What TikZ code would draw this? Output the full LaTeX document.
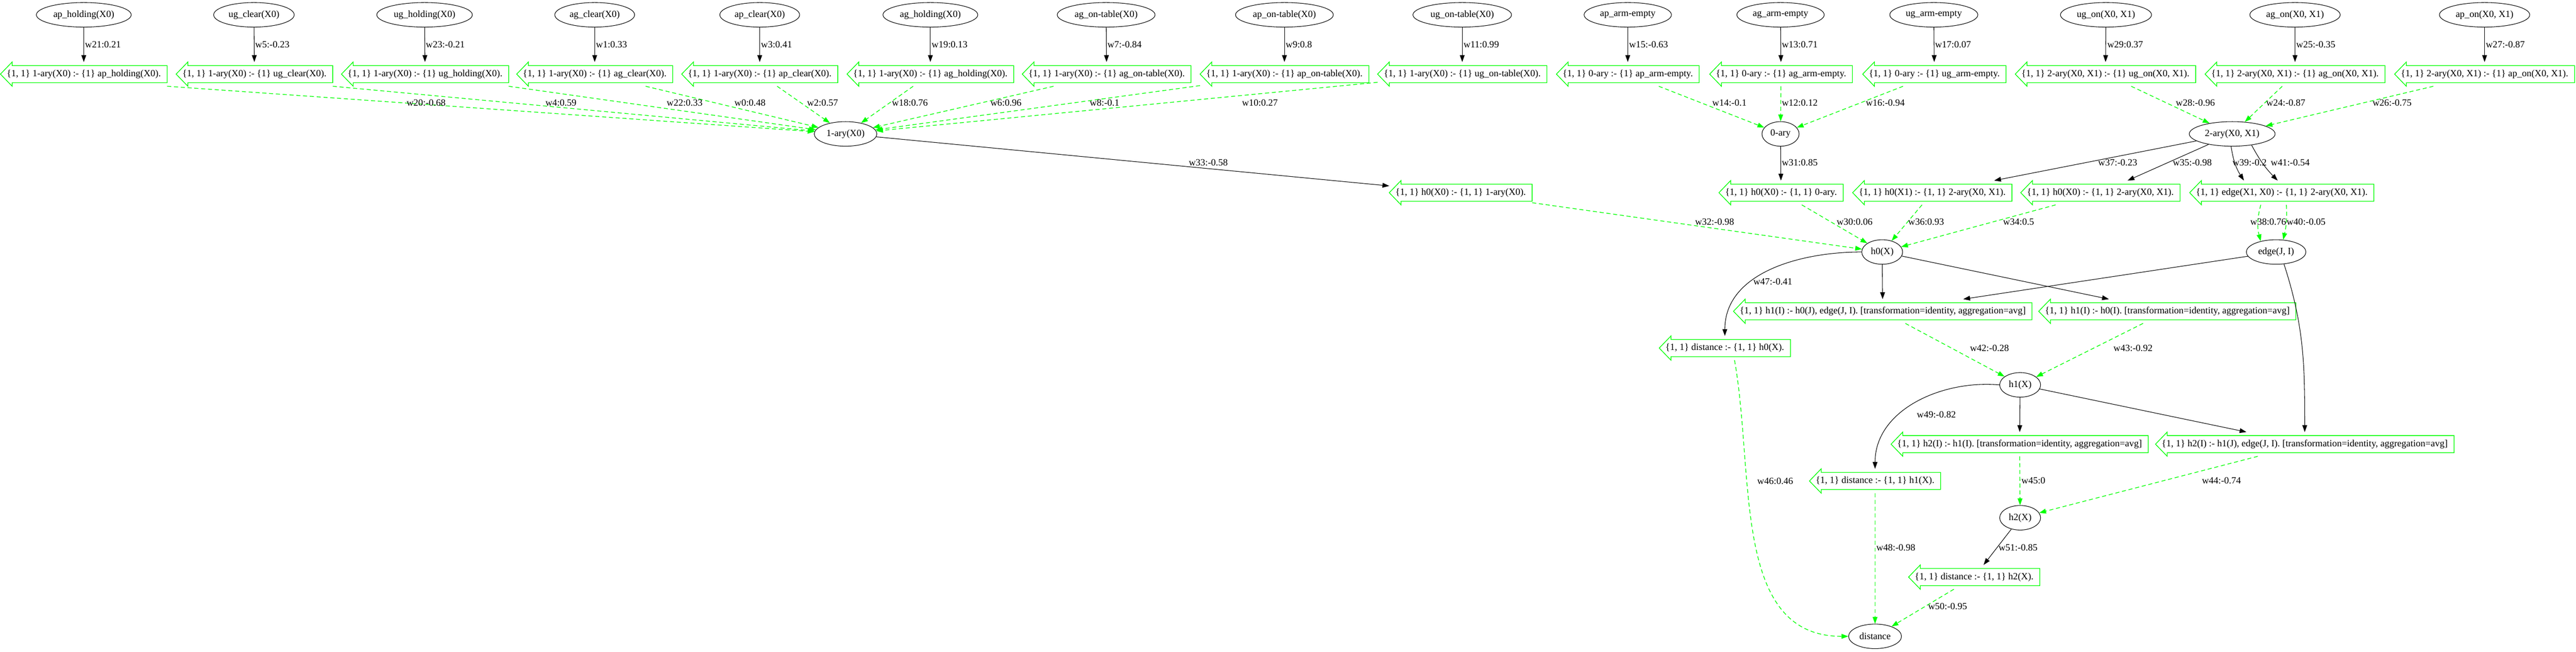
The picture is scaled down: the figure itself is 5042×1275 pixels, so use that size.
\documentclass[tikz,border=0pt]{standalone}
\usepackage{fontspec}
\setmainfont{Liberation Serif}
\usetikzlibrary{arrows.meta,shapes.geometric}
\definecolor{rulegreen}{RGB}{0,255,0}
\tikzset{
  atom/.style={draw, ellipse, line width=0.8pt, inner xsep=4.5pt, inner ysep=1pt, minimum height=36pt},
  rulebox/.style={inner xsep=9pt, inner ysep=0pt, minimum height=35.25pt},
  ruleline/.style={draw=rulegreen, line width=1pt},
  solidarr/.style={draw, line width=0.8pt, -{Triangle[length=10pt,width=7pt]}},
  dasharr/.style={draw=rulegreen, line width=1pt, dash pattern=on 6pt off 4pt, -{Triangle[length=10pt,width=7pt,fill=rulegreen]}},
  wlab/.style={inner sep=1pt}
}
\begin{document}
\begin{tikzpicture}[x=0.75pt, y=-0.75pt, every node/.style={font=\fontsize{14}{16}\selectfont}]
\useasboundingbox (0,0) rectangle (5042,1275);
% input atoms
\node[atom] (aph) at (164,29) {ap\_holding(X0)};
\node[atom] (ugc) at (497,29) {ug\_clear(X0)};
\node[atom] (ugh) at (831,29) {ug\_holding(X0)};
\node[atom] (agc) at (1164,29) {ag\_clear(X0)};
\node[atom] (apc) at (1487,29) {ap\_clear(X0)};
\node[atom] (agh) at (1821,29) {ag\_holding(X0)};
\node[atom] (agot) at (2165,29) {ag\_on-table(X0)};
\node[atom] (apot) at (2514,29) {ap\_on-table(X0)};
\node[atom] (ugot) at (2862,29) {ug\_on-table(X0)};
\node[atom] (apae) at (3186,29) {ap\_arm-empty};
\node[atom] (agae) at (3485,29) {ag\_arm-empty};
\node[atom] (ugae) at (3785,29) {ug\_arm-empty};
\node[atom] (ugon) at (4122,29) {ug\_on(X0, X1)};
\node[atom] (agon) at (4492,29) {ag\_on(X0, X1)};
\node[atom] (apon) at (4863,29) {ap\_on(X0, X1)};
% first rules
\node[rulebox] (raph) at (164,145) {\{1, 1\} 1-ary(X0) :- \{1\} ap\_holding(X0).};
\node[rulebox] (rugc) at (498,145) {\{1, 1\} 1-ary(X0) :- \{1\} ug\_clear(X0).};
\node[rulebox] (rugh) at (832,145) {\{1, 1\} 1-ary(X0) :- \{1\} ug\_holding(X0).};
\node[rulebox] (ragc) at (1164,145) {\{1, 1\} 1-ary(X0) :- \{1\} ag\_clear(X0).};
\node[rulebox] (rapc) at (1487,145) {\{1, 1\} 1-ary(X0) :- \{1\} ap\_clear(X0).};
\node[rulebox] (ragh) at (1821,145) {\{1, 1\} 1-ary(X0) :- \{1\} ag\_holding(X0).};
\node[rulebox] (ragot) at (2166,145) {\{1, 1\} 1-ary(X0) :- \{1\} ag\_on-table(X0).};
\node[rulebox] (rapot) at (2514,145) {\{1, 1\} 1-ary(X0) :- \{1\} ap\_on-table(X0).};
\node[rulebox] (rugot) at (2862,145) {\{1, 1\} 1-ary(X0) :- \{1\} ug\_on-table(X0).};
\node[rulebox] (rapae) at (3186,145) {\{1, 1\} 0-ary :- \{1\} ap\_arm-empty.};
\node[rulebox] (ragae) at (3486,145) {\{1, 1\} 0-ary :- \{1\} ag\_arm-empty.};
\node[rulebox] (rugae) at (3786,145) {\{1, 1\} 0-ary :- \{1\} ug\_arm-empty.};
\node[rulebox] (rugon) at (4121,145) {\{1, 1\} 2-ary(X0, X1) :- \{1\} ug\_on(X0, X1).};
\node[rulebox] (ragon) at (4492,145) {\{1, 1\} 2-ary(X0, X1) :- \{1\} ag\_on(X0, X1).};
\node[rulebox] (rapon) at (4863,145) {\{1, 1\} 2-ary(X0, X1) :- \{1\} ap\_on(X0, X1).};
% arity atoms
\node[atom] (ary1) at (1655,262) {1-ary(X0)};
\node[atom] (ary0) at (3485,262) {0-ary};
\node[atom] (ary2) at (4369,262) {2-ary(X0, X1)};
% h0 rules
\node[rulebox] (rh0a) at (2859,377) {\{1, 1\} h0(X0) :- \{1, 1\} 1-ary(X0).};
\node[rulebox] (rh0b) at (3486,377) {\{1, 1\} h0(X0) :- \{1, 1\} 0-ary.};
\node[rulebox] (rh0c) at (3782,377) {\{1, 1\} h0(X1) :- \{1, 1\} 2-ary(X0, X1).};
\node[rulebox] (rh0d) at (4111,377) {\{1, 1\} h0(X0) :- \{1, 1\} 2-ary(X0, X1).};
\node[rulebox] (redge) at (4466,377) {\{1, 1\} edge(X1, X0) :- \{1, 1\} 2-ary(X0, X1).};
\node[atom] (hzero) at (3684,493) {h0(X)};
\node[atom] (edgeji) at (4455,493) {edge(J, I)};
% message passing
\node[rulebox] (rh1a) at (3685,609) {\{1, 1\} h1(I) :- h0(J), edge(J, I). [transformation=identity, aggregation=avg]};
\node[rulebox] (rh1b) at (4242,609) {\{1, 1\} h1(I) :- h0(I). [transformation=identity, aggregation=avg]};
\node[rulebox] (rdist0) at (3376,681) {\{1, 1\} distance :- \{1, 1\} h0(X).};
\node[atom] (hone) at (3954,753) {h1(X)};
\node[rulebox] (rh2a) at (3953,869) {\{1, 1\} h2(I) :- h1(I). [transformation=identity, aggregation=avg]};
\node[rulebox] (rh2b) at (4511,869) {\{1, 1\} h2(I) :- h1(J), edge(J, I). [transformation=identity, aggregation=avg]};
\node[rulebox] (rdist1) at (3670,941) {\{1, 1\} distance :- \{1, 1\} h1(X).};
\node[atom] (htwo) at (3954,1013) {h2(X)};
\node[rulebox] (rdist2) at (3864,1129) {\{1, 1\} distance :- \{1, 1\} h2(X).};
\node[atom] (dist) at (3670,1245) {distance};
% rule outlines
\foreach \r in {raph,rugc,rugh,ragc,rapc,ragh,ragot,rapot,rugot,rapae,ragae,rugae,rugon,ragon,rapon,rh0a,rh0b,rh0c,rh0d,redge,rh1a,rh1b,rdist0,rh2a,rh2b,rdist1,rdist2}
  \draw[ruleline] ([xshift=17.25pt,yshift=-5.25pt]\r.north west) -- ([xshift=17.25pt]\r.north west) -- (\r.west) -- ([xshift=17.25pt]\r.south west) -- ([xshift=17.25pt,yshift=5.25pt]\r.south west) -- ([yshift=5.25pt]\r.south east) -- ([yshift=-5.25pt]\r.north east) -- cycle;
% atoms into rules
\draw[solidarr] (aph) -- (raph);
\draw[solidarr] (ugc) -- (rugc);
\draw[solidarr] (ugh) -- (rugh);
\draw[solidarr] (agc) -- (ragc);
\draw[solidarr] (apc) -- (rapc);
\draw[solidarr] (agh) -- (ragh);
\draw[solidarr] (agot) -- (ragot);
\draw[solidarr] (apot) -- (rapot);
\draw[solidarr] (ugot) -- (rugot);
\draw[solidarr] (apae) -- (rapae);
\draw[solidarr] (agae) -- (ragae);
\draw[solidarr] (ugae) -- (rugae);
\draw[solidarr] (ugon) -- (rugon);
\draw[solidarr] (agon) -- (ragon);
\draw[solidarr] (apon) -- (rapon);
\node[wlab, anchor=west] (l21) at (165,87) {w21:0.21};
\node[wlab, anchor=west] (l5) at (498,87) {w5:-0.23};
\node[wlab, anchor=west] (l23) at (832,87) {w23:-0.21};
\node[wlab, anchor=west] (l1) at (1165,87) {w1:0.33};
\node[wlab, anchor=west] (l3) at (1488,87) {w3:0.41};
\node[wlab, anchor=west] (l19) at (1822,87) {w19:0.13};
\node[wlab, anchor=west] (l7) at (2166,87) {w7:-0.84};
\node[wlab, anchor=west] (l9) at (2515,87) {w9:0.8};
\node[wlab, anchor=west] (l11) at (2863,87) {w11:0.99};
\node[wlab, anchor=west] (l15) at (3187,87) {w15:-0.63};
\node[wlab, anchor=west] (l13) at (3486,87) {w13:0.71};
\node[wlab, anchor=west] (l17) at (3786,87) {w17:0.07};
\node[wlab, anchor=west] (l29) at (4123,87) {w29:0.37};
\node[wlab, anchor=west] (l25) at (4493,87) {w25:-0.35};
\node[wlab, anchor=west] (l27) at (4864,87) {w27:-0.87};
% rules into arity atoms
\draw[dasharr] (raph.south east) -- (ary1);
\draw[dasharr] (rugc.south east) -- (ary1);
\draw[dasharr] (rugh.south east) -- (ary1);
\draw[dasharr] (ragc) -- (ary1);
\draw[dasharr] (rapc) -- (ary1);
\draw[dasharr] (ragh) -- (ary1);
\draw[dasharr] (ragot) -- (ary1);
\draw[dasharr] (rapot) -- (ary1);
\draw[dasharr] (rugot) -- (ary1);
\draw[dasharr] (rapae) -- (ary0);
\draw[dasharr] (ragae) -- (ary0);
\draw[dasharr] (rugae) -- (ary0);
\draw[dasharr] (rugon) -- (ary2);
\draw[dasharr] (ragon) -- (ary2);
\draw[dasharr] (rapon) -- (ary2);
\node[wlab] (l20) at (834,201) {w20:-0.68};
\node[wlab] (l4) at (1098,201) {w4:0.59};
\node[wlab] (l22) at (1340,201) {w22:0.33};
\node[wlab] (l0) at (1468,201) {w0:0.48};
\node[wlab] (l2) at (1610,201) {w2:0.57};
\node[wlab] (l18) at (1781,201) {w18:0.76};
\node[wlab] (l6) at (1969,201) {w6:0.96};
\node[wlab] (l8) at (2162,201) {w8:-0.1};
\node[wlab] (l10) at (2466,201) {w10:0.27};
\node[wlab] (l14) at (3385,201) {w14:-0.1};
\node[wlab, anchor=west] (l12) at (3486,201) {w12:0.12};
\node[wlab] (l16) at (3690,201) {w16:-0.94};
\node[wlab] (l28) at (4297,201) {w28:-0.96};
\node[wlab] (l24) at (4474,201) {w24:-0.87};
\node[wlab] (l26) at (4682,201) {w26:-0.75};
% arity atoms into h0 rules
\draw[solidarr] (ary1) -- (rh0a);
\draw[solidarr] (ary0) -- (rh0b);
\draw[solidarr] (ary2) -- (rh0c);
\draw[solidarr] (ary2) -- (rh0d);
\draw[solidarr] (ary2.-95) to[bend right=12] ([xshift=-55.5pt]redge.north);
\draw[solidarr] (ary2.-30) to[bend right=8] ([xshift=-6pt]redge.north);
\node[wlab] (l33) at (2365,318) {w33:-0.58};
\node[wlab, anchor=west] (l31) at (3486,318) {w31:0.85};
\node[wlab] (l37) at (4145,318) {w37:-0.23};
\node[wlab] (l35) at (4291,318) {w35:-0.98};
\node[wlab, anchor=west] (l39) at (4368,318) {w39:-0.2};
\node[wlab, anchor=west] (l41) at (4443,318) {w41:-0.54};
% h0 rules into h0 and edge
\draw[dasharr] (rh0a) -- (hzero);
\draw[dasharr] (rh0b) -- (hzero);
\draw[dasharr] (rh0c) -- (hzero);
\draw[dasharr] (rh0d) -- (hzero);
\draw[dasharr] ([xshift=-30.75pt]redge.south) to[bend right=15] (edgeji.145);
\draw[dasharr] ([xshift=6.75pt]redge.south) to[bend left=8] (edgeji.60);
\node[wlab] (l32) at (3356,434) {w32:-0.98};
\node[wlab] (l30) at (3630,434) {w30:0.06};
\node[wlab] (l36) at (3770,434) {w36:0.93};
\node[wlab] (l34) at (3951,434) {w34:0.5};
\node[wlab, anchor=west] (l38) at (4403,434) {w38:0.76};
\node[wlab, anchor=west] (l40) at (4474,434) {w40:-0.05};
% h0 and edge into h1 rules
\draw[solidarr] (hzero.west) to[out=180,in=90] (rdist0.north);
\draw[solidarr] (hzero) -- (rh1a);
\draw[solidarr] (hzero) -- (rh1b);
\draw[solidarr] (edgeji) -- (rh1a);
\draw[solidarr] (edgeji.-57) to[out=-72,in=90] (rh2b.north);
\node[wlab] (l47) at (3470,551) {w47:-0.41};
\draw[dasharr] (rh1a) -- (hone);
\draw[dasharr] (rh1b) -- (hone);
\draw[dasharr] ([xshift=14.25pt]rdist0.south) to[out=-80,in=180] (dist.west);
\node[wlab] (l42) at (3894,681) {w42:-0.28};
\node[wlab] (l43) at (4175,681) {w43:-0.92};
\node[wlab, anchor=west] (l46) at (3438,941) {w46:0.46};
% h1 into h2 rules
\draw[solidarr] (hone.west) to[out=175,in=90] (rdist1.north);
\draw[solidarr] (hone) -- (rh2a);
\draw[solidarr] (hone) -- (rh2b);
\node[wlab] (l49) at (3790,811) {w49:-0.82};
\draw[dasharr] (rh2a) -- (htwo);
\draw[dasharr] (rh2b) -- (htwo);
\node[wlab, anchor=west] (l45) at (3955,940) {w45:0};
\node[wlab] (l44) at (4348,940) {w44:-0.74};
% into distance
\draw[solidarr] (htwo) -- (rdist2);
\draw[dasharr] (rdist1) -- (dist);
\draw[dasharr] (rdist2) -- (dist);
\node[wlab] (l51) at (3950,1071) {w51:-0.85};
\node[wlab, anchor=west] (l48) at (3671,1071) {w48:-0.98};
\node[wlab] (l50) at (3812,1186) {w50:-0.95};
\end{tikzpicture}
\end{document}
